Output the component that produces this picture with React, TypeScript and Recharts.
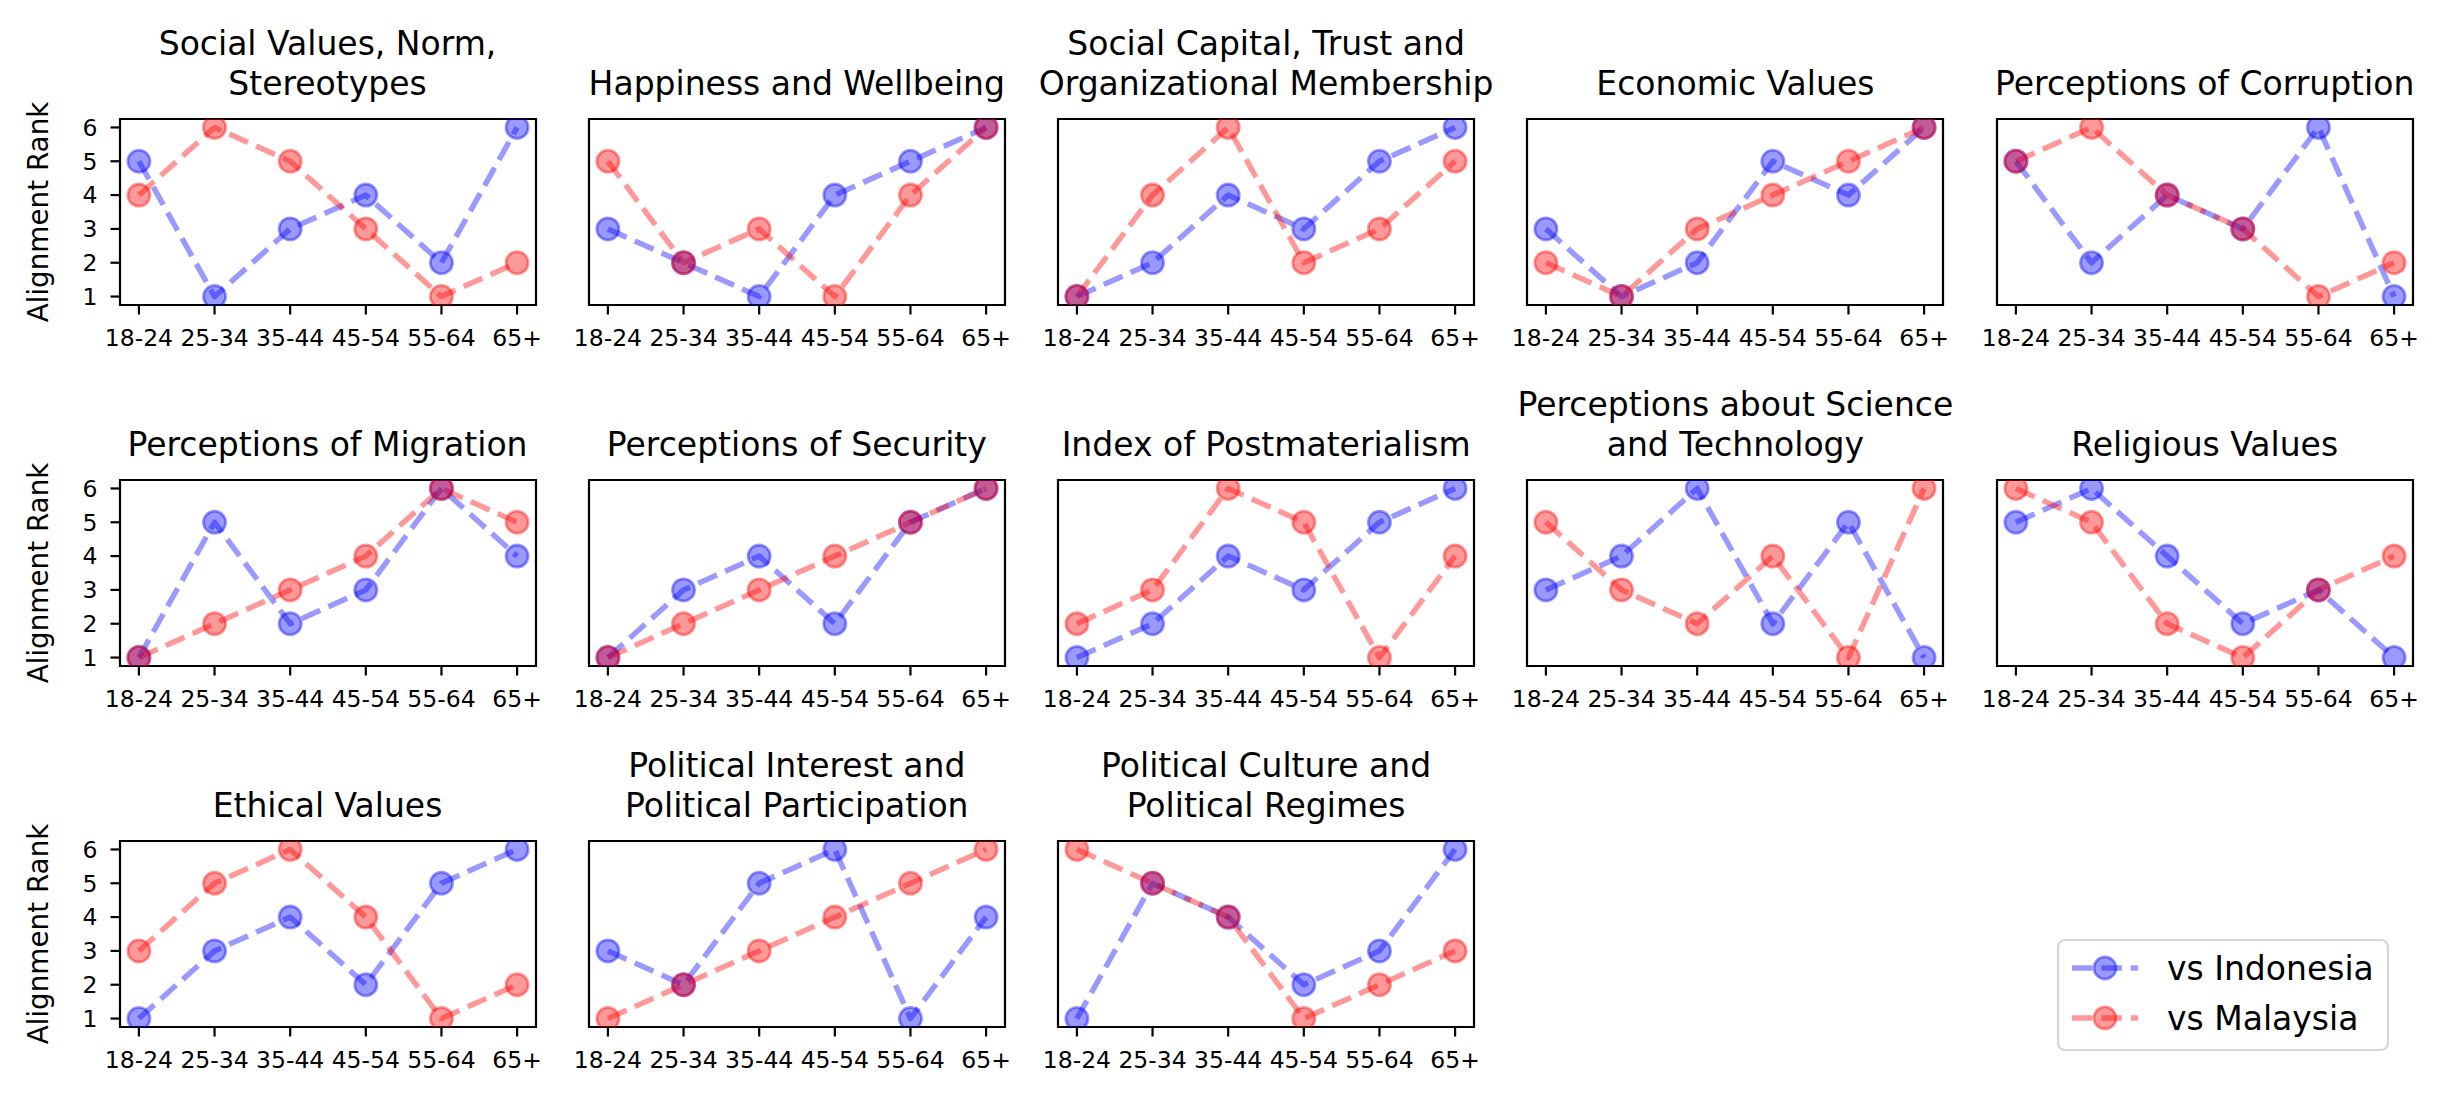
import React from 'react';
import { LineChart, Line, XAxis, YAxis, ReferenceArea } from 'recharts';

// ---------- data ----------
const AGE_GROUPS = ['18-24', '25-34', '35-44', '45-54', '55-64', '65+'];
const RANK_TICKS = [1, 2, 3, 4, 5, 6];

const TOPICS = [
  'Social Values, Norm,\nStereotypes',
  'Happiness and Wellbeing',
  'Social Capital, Trust and\nOrganizational Membership',
  'Economic Values',
  'Perceptions of Corruption',
  'Perceptions of Migration',
  'Perceptions of Security',
  'Index of Postmaterialism',
  'Perceptions about Science\nand Technology',
  'Religious Values',
  'Ethical Values',
  'Political Interest and\nPolitical Participation',
  'Political Culture and\nPolitical Regimes',
];

const INDONESIA = [
  [5, 1, 3, 4, 2, 6],
  [3, 2, 1, 4, 5, 6],
  [1, 2, 4, 3, 5, 6],
  [3, 1, 2, 5, 4, 6],
  [5, 2, 4, 3, 6, 1],
  [1, 5, 2, 3, 6, 4],
  [1, 3, 4, 2, 5, 6],
  [1, 2, 4, 3, 5, 6],
  [3, 4, 6, 2, 5, 1],
  [5, 6, 4, 2, 3, 1],
  [1, 3, 4, 2, 5, 6],
  [3, 2, 5, 6, 1, 4],
  [1, 5, 4, 2, 3, 6],
];

const MALAYSIA = [
  [4, 6, 5, 3, 1, 2],
  [5, 2, 3, 1, 4, 6],
  [1, 4, 6, 2, 3, 5],
  [2, 1, 3, 4, 5, 6],
  [5, 6, 4, 3, 1, 2],
  [1, 2, 3, 4, 6, 5],
  [1, 2, 3, 4, 5, 6],
  [2, 3, 6, 5, 1, 4],
  [5, 3, 2, 4, 1, 6],
  [6, 5, 2, 1, 3, 4],
  [3, 5, 6, 4, 1, 2],
  [1, 2, 3, 4, 5, 6],
  [6, 5, 4, 1, 2, 3],
];

const SERIES = [
  { key: 'indonesia', name: 'vs Indonesia', color: '#0000ff' },
  { key: 'malaysia', name: 'vs Malaysia', color: '#ff0000' },
];

// ---------- layout / style ----------
const FONT = '"DejaVu Sans", "Liberation Sans", sans-serif';
const COLS = 5;
const PANEL_W = 416;
const PANEL_H = 186;
const COL_X0 = 119.5;
const COL_STEP = 469.3;
const ROW_Y0 = 119;
const ROW_STEP = 361;
const PAD = 6;
const SIDE = 40;
const Y_AXIS_W = 110;
const X_AXIS_H = 60;
const X_DOMAIN: [number, number] = [-0.25, 5.25];
const Y_DOMAIN: [number, number] = [0.75, 6.25];
const LINE_W = 5.5;
const DASH = '20.5 8.9';
const MARKER_R = 11.1;
const MARKER_EDGE = 2.78;
const ALPHA = 0.4;
const TICK_FONT = 23.5;
const TITLE_FONT = 33;
const TITLE_LH = 39.6;

const xTicks = AGE_GROUPS.map((_, i) => i);

function Panel({ idx }: { idx: number }) {
  const col = idx % COLS;
  const row = Math.floor(idx / COLS);
  const L = COL_X0 + col * COL_STEP;
  const T = ROW_Y0 + row * ROW_STEP;
  const showY = col === 0;
  const yw = showY ? Y_AXIS_W : 0;
  const leftM = showY ? PAD : PAD + SIDE;
  const rightM = PAD + SIDE;
  const data = AGE_GROUPS.map((age, i) => ({
    x: i,
    age,
    indonesia: INDONESIA[idx][i],
    malaysia: MALAYSIA[idx][i],
  }));
  const width = leftM + yw + PANEL_W + rightM;
  const height = PAD + PANEL_H + X_AXIS_H + PAD;
  const lines = TOPICS[idx].split('\n');
  return (
    <>
      <div
        style={{
          position: 'absolute',
          left: L + PANEL_W / 2 - 350,
          width: 700,
          top: T - 15.6 - lines.length * TITLE_LH,
          textAlign: 'center',
          fontSize: TITLE_FONT,
          lineHeight: `${TITLE_LH}px`,
          color: '#000',
          whiteSpace: 'pre',
        }}
      >
        {TOPICS[idx]}
      </div>
      {showY && (
        <div
          style={{
            position: 'absolute',
            left: 39,
            top: T + PANEL_H / 2,
            transform: 'translate(-50%, -50%) rotate(-90deg)',
            fontSize: 27.8,
            lineHeight: '27.8px',
            whiteSpace: 'nowrap',
            color: '#000',
          }}
        >
          Alignment Rank
        </div>
      )}
      <div style={{ position: 'absolute', left: L - yw - leftM, top: T - PAD }}>
        <LineChart
          width={width}
          height={height}
          data={data}
          margin={{ top: PAD, right: rightM, bottom: PAD, left: leftM }}
        >
          <XAxis
            dataKey="x"
            type="number"
            domain={X_DOMAIN}
            ticks={xTicks}
            interval={0}
            allowDataOverflow
            tickFormatter={(v: number) => AGE_GROUPS[v]}
            height={X_AXIS_H}
            stroke="#000"
            axisLine={false}
            tickSize={9.5}
            tickMargin={14.5}
            tickLine={{ stroke: '#000', strokeWidth: 2.2 }}
            tick={{ fill: '#000', fontSize: TICK_FONT, fontFamily: FONT }}
          />
          <YAxis
            type="number"
            domain={Y_DOMAIN}
            ticks={RANK_TICKS}
            interval={0}
            allowDataOverflow
            hide={!showY}
            width={yw}
            stroke="#000"
            axisLine={false}
            tickSize={9.5}
            tickMargin={13}
            tickLine={{ stroke: '#000', strokeWidth: 2.2 }}
            tick={{ fill: '#000', fontSize: TICK_FONT, fontFamily: FONT }}
          />
          {SERIES.map((s) => (
            <Line
              key={s.key}
              type="linear"
              dataKey={s.key}
              name={s.name}
              stroke={s.color}
              strokeOpacity={ALPHA}
              strokeWidth={LINE_W}
              strokeDasharray={DASH}
              strokeLinejoin="round"
              dot={{
                r: MARKER_R,
                fill: s.color,
                fillOpacity: ALPHA,
                stroke: s.color,
                strokeOpacity: ALPHA,
                strokeWidth: MARKER_EDGE,
                strokeDasharray: 'none',
              }}
              activeDot={false}
              isAnimationActive={false}
            />
          ))}
          <ReferenceArea
            x1={X_DOMAIN[0]}
            x2={X_DOMAIN[1]}
            y1={Y_DOMAIN[0]}
            y2={Y_DOMAIN[1]}
            fill="none"
            fillOpacity={0}
            stroke="#000"
            strokeWidth={2.2}
            ifOverflow="visible"
          />
        </LineChart>
      </div>
    </>
  );
}

function LegendBox() {
  const x0 = 2058;
  const y0 = 940;
  const w = 330;
  const h = 110;
  return (
    <svg
      style={{ position: 'absolute', left: 0, top: 0 }}
      width={2450}
      height={1104}
      pointerEvents="none"
    >
      <rect
        x={x0}
        y={y0}
        width={w}
        height={h}
        rx={7}
        ry={7}
        fill="#fff"
        fillOpacity={0.8}
        stroke="#d6d6d6"
        strokeWidth={2.2}
      />
      {SERIES.map((s, i) => {
        const cy = 968 + i * 50;
        return (
          <g key={s.key}>
            <line
              x1={2072}
              x2={2138}
              y1={cy}
              y2={cy}
              stroke={s.color}
              strokeOpacity={ALPHA}
              strokeWidth={LINE_W}
              strokeDasharray={DASH}
            />
            <circle
              cx={2105}
              cy={cy}
              r={MARKER_R}
              fill={s.color}
              fillOpacity={ALPHA}
              stroke={s.color}
              strokeOpacity={ALPHA}
              strokeWidth={MARKER_EDGE}
            />
            <text x={2167} y={cy + 12} fontSize={TITLE_FONT} fontFamily={FONT} fill="#000">
              {s.name}
            </text>
          </g>
        );
      })}
    </svg>
  );
}

export default function App() {
  return (
    <div
      style={{
        position: 'absolute',
        left: 0,
        top: 0,
        width: 2450,
        height: 1104,
        background: '#fff',
        fontFamily: FONT,
        overflow: 'hidden',
      }}
    >
      {TOPICS.map((_, i) => (
        <Panel key={i} idx={i} />
      ))}
      <LegendBox />
    </div>
  );
}
